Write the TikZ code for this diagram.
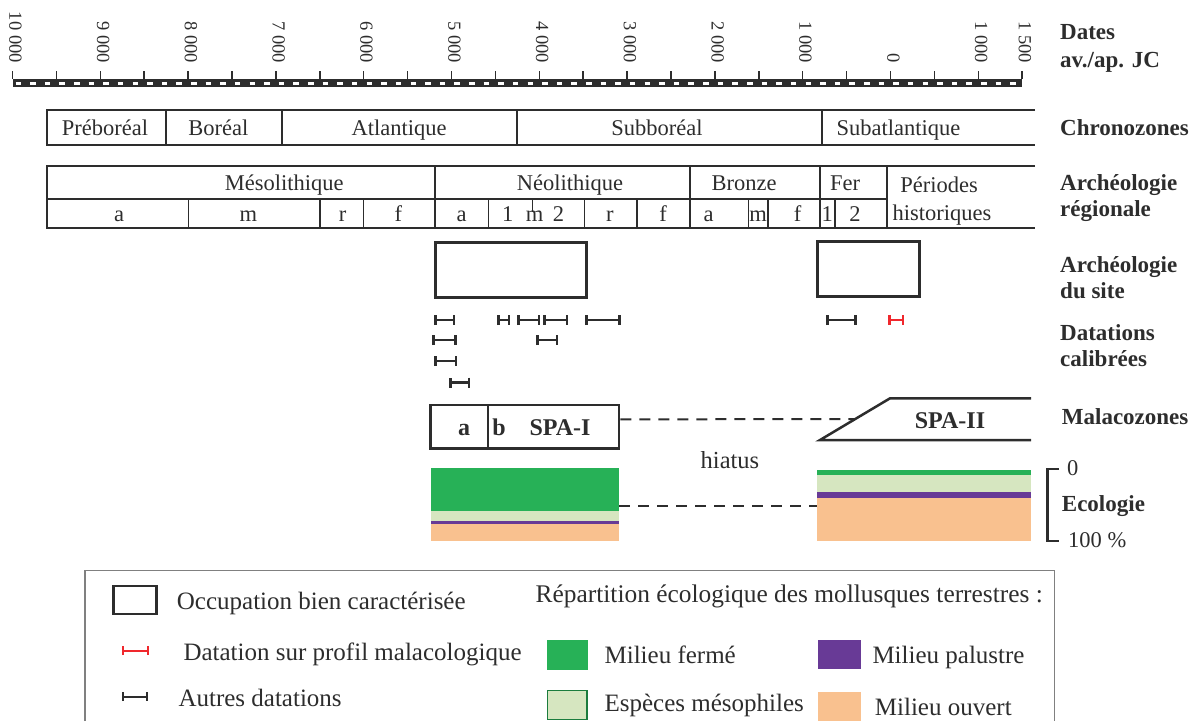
\documentclass[tikz,border=0pt]{standalone}
\usepackage{fontspec}
\setmainfont{Liberation Serif}
\usetikzlibrary{arrows.meta,calc}

\definecolor{ink}{RGB}{45,45,45}
\definecolor{ferme}{RGB}{39,177,87}
\definecolor{meso}{RGB}{214,230,192}
\definecolor{palus}{RGB}{104,58,150}
\definecolor{ouvert}{RGB}{249,193,143}
\definecolor{datred}{RGB}{240,40,45}

\begin{document}
\begin{tikzpicture}[x=1pt,y=-1pt,
  boxline/.style={draw=ink,line width=2pt},
  thinline/.style={draw=ink,line width=1.2pt},
  zonetext/.style={text=ink,font=\fontsize{22.5}{25}\selectfont,inner sep=0pt,text height=15pt,text depth=0pt},
  rowhead/.style={text=ink,font=\bfseries\fontsize{23}{26}\selectfont,anchor=west,inner sep=0pt,text height=15pt,text depth=0pt},
  legtext/.style={text=ink,font=\fontsize{25}{27}\selectfont,anchor=west,inner sep=0pt,text height=16pt,text depth=0pt},
  yearlab/.style={text=ink,font=\fontsize{18.5}{20}\selectfont,rotate=-90,anchor=east,inner sep=0pt,text height=12.5pt,text depth=0pt},
  datebar/.style={draw=ink,line width=2.5pt,{Bar[width=10pt]}-{Bar[width=10pt]}},
  spatext/.style={text=ink,font=\bfseries\fontsize{24}{26}\selectfont,inner sep=0pt,text height=16pt,text depth=0pt}]

  \useasboundingbox (0,0) rectangle (1196,721);

  % echelle des dates
  \fill[ink] (12.5,79) rectangle (1022.2,87);
  \draw[white,line width=3pt,dash pattern=on 5.5pt off 9.13pt,dash phase=11.63pt] (12.5,83) -- (1022.2,83);
  \foreach \i in {0,...,23}
    \draw[ink,line width=1.5pt] (12.5+\i*43.9,71) -- (12.5+\i*43.9,79);
  \foreach \i/\d in {0/10 000,2/9 000,4/8 000,6/7 000,8/6 000,10/5 000,12/4 000,14/3 000,16/2 000,18/1 000,20/0,22/1 000,23/1 500}
    \node[yearlab] (y\i) at (15.5+\i*43.9,63) {\d};
  \node[rowhead] (dates) at (1060,32) {Dates};
  \node[rowhead] (avap) at (1060,60) {av./ap. JC};

  % chronozones
  \draw[boxline] (1035,110) -- (47.3,110) -- (47.3,145) -- (1035,145);
  \foreach \x in {165.7,282.3,516.7,822}
    \draw[boxline] (\x,110) -- (\x,145);
  \node[zonetext] (preboreal) at (105,127.5) {Préboréal};
  \node[zonetext] (boreal) at (218.3,127.5) {Boréal};
  \node[zonetext] (atlantique) at (399,127.5) {Atlantique};
  \node[zonetext] (subboreal) at (657,127.5) {Subboréal};
  \node[zonetext] (subatl) at (898.5,127.5) {Subatlantique};
  \node[rowhead] (chrono) at (1060,127.5) {Chronozones};

  % archeologie regionale
  \draw[boxline] (1035,166) -- (47.3,166) -- (47.3,228.3) -- (1035,228.3);
  \draw[boxline] (47.3,199.3) -- (887,199.3);
  \foreach \x in {435,690,820,887}
    \draw[boxline] (\x,166) -- (\x,228.3);
  \foreach \x in {188.3,320,363.3,488.3,584.5,637,748.2,768,835}
    \draw[thinline] (\x,199.3) -- (\x,228.3);
  \draw[thinline] (532.7,199.3) -- (532.7,212);
  \node[zonetext] (meso) at (284.2,182.7) {Mésolithique};
  \node[zonetext] (neo) at (570,182.7) {Néolithique};
  \node[zonetext] (bronze) at (744,182.7) {Bronze};
  \node[zonetext] (fer) at (845,182.7) {Fer};
  \node[zonetext] (periodes) at (939,185) {Périodes};
  \node[zonetext] (histo) at (942,212.5) {historiques};
  \foreach \x/\t [count=\n] in {119/a,248.3/m,342.7/r,398.3/f,461.5/a,507.8/1,534.7/m,558.4/2,609.8/r,663/f,708.7/a,758/m,797.6/f,827.3/1,855/2}
    \node[zonetext] (sub\n) at (\x,214) {\t};
  \node[rowhead] (archreg1) at (1060,183) {Archéologie};
  \node[rowhead] (archreg2) at (1060,209) {régionale};

  % archeologie du site
  \draw[ink,line width=2.5pt] (435.7,242.7) rectangle (586.7,297.7);
  \draw[ink,line width=2.5pt] (817.7,241.7) rectangle (919.3,296.5);
  \node[rowhead] (site1) at (1060,265) {Archéologie};
  \node[rowhead] (site2) at (1060,291) {du site};

  % datations calibrees
  \draw[datebar] (434,320) -- (455,320);
  \draw[datebar] (497.3,320) -- (510,320);
  \draw[datebar] (517.3,320) -- (540,320);
  \draw[datebar] (543.3,320) -- (568.3,320);
  \draw[datebar] (585,320) -- (620.7,320);
  \draw[datebar] (826,320) -- (856.7,320);
  \draw[datebar,draw=datred] (888.3,320) -- (904,320);
  \draw[datebar] (432.3,340) -- (456.7,340);
  \draw[datebar] (536,340) -- (558.3,340);
  \draw[datebar] (434,361) -- (457.3,361);
  \draw[datebar] (449.3,382.7) -- (470,382.7);
  \node[rowhead] (dat1) at (1060,333) {Datations};
  \node[rowhead] (dat2) at (1060,359) {calibrées};

  % malacozones
  \node[draw=ink,line width=2.5pt,minimum width=188.3pt,minimum height=43.3pt,inner sep=0pt] (spaI) at (524.85,426.65) {};
  \draw[ink,line width=2pt] (488.3,405) -- (488.3,448.3);
  \node[spatext] (za) at (464,427) {a};
  \node[spatext] (zb) at (499,427) {b};
  \node[spatext] (zspaI) at (560,427) {SPA-I};
  \coordinate (lowII) at (820,440);
  \coordinate (upII) at (890,398.3);
  \draw[ink,line width=2.5pt] (1031,398.3) -- (upII) -- (lowII) -- (1031,440);
  \node[spatext] (zspaII) at (950,420) {SPA-II};
  \draw[ink,line width=2pt,dash pattern=on 11pt off 8pt] (spaI.east |- 0,419.3) -- ($(lowII)!0.5!(upII)$);
  \node[rowhead] (malaco) at (1061.7,416.7) {Malacozones};
  \node[zonetext,font=\fontsize{24.5}{27}\selectfont] (hiatus) at (730,461) {hiatus};

  % ecologie
  \fill[ferme] (430.7,468.3) rectangle (619,510.7);
  \fill[meso] (430.7,510.7) rectangle (619,520.7);
  \fill[palus] (430.7,520.7) rectangle (619,524.3);
  \fill[ouvert] (430.7,524.3) rectangle (619,541);
  \fill[ferme] (816.7,470) rectangle (1031,474.7);
  \fill[meso] (816.7,474.7) rectangle (1031,492.3);
  \fill[palus] (816.7,492.3) rectangle (1031,498);
  \fill[ouvert] (816.7,498) rectangle (1031,541);
  \coordinate (eco1) at (619,505.7);
  \coordinate (eco2) at (816.7,505.7);
  \draw[ink,line width=2pt,dash pattern=on 11pt off 8pt] (eco1) -- (eco2);
  \draw[ink,line width=2.5pt] (1059,469) -- (1047.5,469) -- (1047.5,541) -- (1059,541);
  \node[zonetext,anchor=west] (zero) at (1067,468) {0};
  \node[rowhead] (ecol) at (1061.7,504) {Ecologie};
  \node[zonetext,anchor=west] (cent) at (1068,540) {100 \%};

  % legende
  \draw[draw=gray,line width=1.5pt] (85,721) -- (85,570.7) -- (1054.3,570.7) -- (1054.3,721);
  \draw[ink,line width=2.5pt] (113.3,586) rectangle (156.7,614);
  \node[legtext] (lgocc) at (176.7,601) {Occupation bien caractérisée};
  \draw[datebar,draw=datred,line width=2pt,{Bar[width=9pt]}-{Bar[width=9pt]}] (121.7,650.7) -- (149.3,650.7);
  \node[legtext] (lgmala) at (183.3,652) {Datation sur profil malacologique};
  \draw[datebar,line width=2pt,{Bar[width=9pt]}-{Bar[width=9pt]}] (121.7,696.7) -- (148.3,696.7);
  \node[legtext] (lgautre) at (178.3,698) {Autres datations};
  \node[legtext,font=\fontsize{25.4}{28}\selectfont] (lgrep) at (535.5,594) {Répartition écologique des mollusques terrestres :};
  \fill[ferme] (546.9,640.2) rectangle (587.8,669.5);
  \node[legtext] (lgferme) at (604.4,655) {Milieu fermé};
  \fill[palus] (817.9,639.9) rectangle (860.9,668.8);
  \node[legtext] (lgpalus) at (872.3,655) {Milieu palustre};
  \draw[fill=meso,draw=ferme!70!black,line width=1.5pt] (547.6,690.5) rectangle (587.1,719.4);
  \node[legtext] (lgmeso) at (604.4,703) {Espèces mésophiles};
  \fill[ouvert] (818.2,691.5) rectangle (860.9,720.8);
  \node[legtext] (lgouvert) at (874.7,707) {Milieu ouvert};

\end{tikzpicture}
\end{document}
